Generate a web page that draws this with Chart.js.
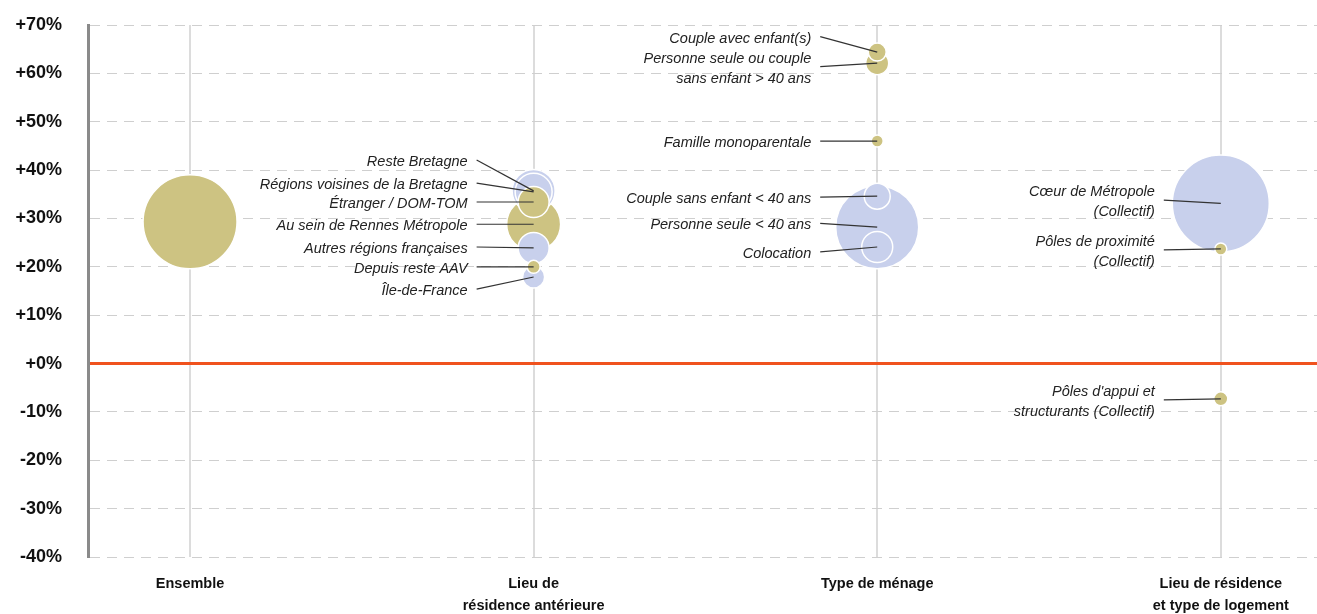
<!DOCTYPE html>
<html lang="fr">
<head>
<meta charset="utf-8">
<title>Évolution par profil</title>
<script src="https://cdn.jsdelivr.net/npm/chart.js@4"></script>
<style>
  body { margin: 0; background: #fff; }
  #wrap { width: 1317px; height: 614px; position: relative; }
</style>
</head>
<body>
<div id="wrap"><canvas id="graphique"></canvas></div>
<script>
// Catégories de l'axe horizontal
const categories = [
    ['Ensemble'],
    ['Lieu de', 'résidence antérieure'],
    ['Type de ménage'],
    ['Lieu de résidence', 'et type de logement']
];

// Graduations de l'axe vertical (en %)
const yMin = -40;
const yMax = 70;
const yPas = 10;

// Bulles (ordre de dessin : les plus grosses d'abord)
const noms = [
    ['Cœur de Métropole', '(Collectif)'],
    null,
    ['Personne seule < 40 ans'],
    ['Au sein de Rennes Métropole'],
    ['Reste Bretagne'],
    ['Régions voisines de la Bretagne'],
    ['Autres régions françaises'],
    ['Étranger / DOM-TOM'],
    ['Colocation'],
    ['Couple sans enfant < 40 ans'],
    ['Personne seule ou couple', 'sans enfant > 40 ans'],
    ['Île-de-France'],
    ['Couple avec enfant(s)'],
    ['Pôles d\'appui et', 'structurants (Collectif)'],
    ['Famille monoparentale'],
    ['Depuis reste AAV'],
    ['Pôles de proximité', '(Collectif)']
];
const groupe = [3, 0, 2, 1, 1, 1, 1, 1, 2, 2, 2, 1, 2, 3, 2, 1, 3];
const evolution = [33.1, 29.3, 28.2, 28.8, 35.7, 35.5, 23.9, 33.4, 24.1, 34.6, 62.1, 17.9, 64.4, -7.3, 46.0, 20.0, 23.7];
const taille = [48.5, 47, 41.5, 27, 21.5, 18.5, 15.5, 15.5, 15.5, 13, 11.5, 11, 9, 7, 6, 6.5, 6];
const teinte = ['bleu', 'olive', 'bleu', 'olive', 'bleu', 'bleu', 'bleu', 'olive', 'bleu', 'bleu', 'olive', 'bleu', 'olive', 'olive', 'olive', 'olive', 'olive'];

// Hauteur (en %) où démarre le trait de rappel de chaque étiquette
const etiquetteY = [33.8, null, 29.0, 28.8, 42.1, 37.3, 24.1, 33.4, 23.1, 34.4, 61.4, 15.4, 67.6, -7.5, 46.0, 20.0, 23.5];

const couleurs = { olive: '#cdc382', bleu: '#c8d0ec' };
const police = '"Liberation Sans", Arial, sans-serif';

const points = evolution.map((v, i) => ({ x: groupe[i], y: v, r: taille[i] }));

// Étiquettes en italique + traits de rappel
const pluginEtiquettes = {
    id: 'etiquettes',
    afterDatasetsDraw(chart) {
        const ctx = chart.ctx;
        const sx = chart.scales.x;
        const sy = chart.scales.y;
        ctx.save();
        ctx.font = 'italic 14.5px ' + police;
        ctx.fillStyle = '#222';
        ctx.textAlign = 'right';
        ctx.textBaseline = 'middle';
        noms.forEach((lignes, i) => {
            if (!lignes) return;
            const cx = sx.getPixelForValue(groupe[i]);
            const cy = sy.getPixelForValue(evolution[i]);
            const ly = sy.getPixelForValue(etiquetteY[i]);
            ctx.strokeStyle = '#333';
            ctx.lineWidth = 1.2;
            ctx.beginPath();
            ctx.moveTo(cx - 57, ly);
            ctx.lineTo(cx, cy);
            ctx.stroke();
            const h = 20;
            const y0 = ly + 2 - (lignes.length - 1) * h / 2;
            lignes.forEach((t, k) => ctx.fillText(t, cx - 66, y0 + k * h));
        });
        ctx.restore();
    }
};

new Chart(document.getElementById('graphique'), {
    type: 'bubble',
    data: {
        datasets: [{
            data: points,
            backgroundColor: teinte.map(t => couleurs[t]),
            borderColor: '#ffffff',
            borderWidth: 1.5
        }]
    },
    options: {
        responsive: true,
        maintainAspectRatio: false,
        animation: false,
        events: [],
        layout: { autoPadding: false, padding: { top: 25, right: 0, left: 0, bottom: 0 } },
        plugins: {
            legend: { display: false },
            tooltip: { enabled: false }
        },
        scales: {
            x: {
                type: 'linear',
                min: -0.297,
                max: 3.28,
                afterBuildTicks: (s) => { s.ticks = categories.map((_, i) => ({ value: i })); },
                afterFit: (s) => { s.height = 57; },
                grid: { color: '#dcdcdc', lineWidth: 2, drawTicks: false },
                border: { display: false },
                ticks: {
                    padding: 16,
                    color: '#111',
                    font: { family: police, size: 14.5, weight: 'bold', lineHeight: 1.5 },
                    callback: (v) => categories[v] || ''
                }
            },
            y: {
                min: yMin,
                max: yMax,
                afterFit: (s) => { s.width = 88; },
                grid: {
                    color: (c) => c.tick && c.tick.value === 0 ? '#f0521e' : '#cfcfcf',
                    lineWidth: (c) => c.tick && c.tick.value === 0 ? 3 : 1,
                    drawTicks: true,
                    tickLength: 26,
                    tickColor: 'rgba(0,0,0,0)'
                },
                border: {
                    display: true,
                    color: '#8a8a8a',
                    width: 3,
                    dash: (c) => c.tick && c.tick.value === 0 ? [] : [10, 7]
                },
                ticks: {
                    stepSize: yPas,
                    padding: 0,
                    color: '#111',
                    font: { family: police, size: 18, weight: 'bold' },
                    callback: (v) => (v >= 0 ? '+' : '') + v + '%'
                }
            }
        }
    },
    plugins: [pluginEtiquettes]
});
</script>
</body>
</html>
